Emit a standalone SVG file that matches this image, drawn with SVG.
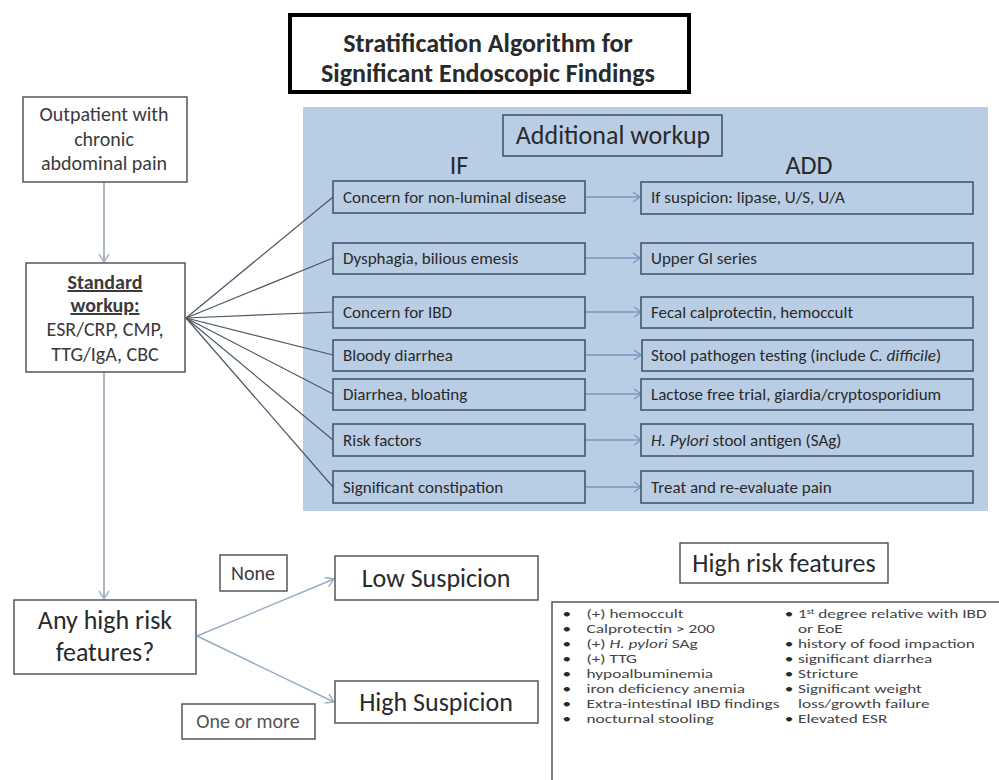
<svg xmlns="http://www.w3.org/2000/svg" width="999" height="780" viewBox="0 0 999 780">
<style>
text{font-family:Carlito,"Liberation Sans",Arial,sans-serif;fill:#2a2a2a}
.box{fill:#fff;stroke:#555;stroke-width:1.5}
.ibox{fill:#b9cde4;stroke:#3d4f66;stroke-width:1.5}
.t17{font-size:17px}
.t20{font-size:20px;text-anchor:middle;fill:#3a3a3a}
.t26{font-size:26px;text-anchor:middle}
.hr{font-size:13px;fill:#444}
.fan{stroke:#4a5868;stroke-width:1.2;fill:none}
.blue{stroke:#7b96bd;stroke-width:1.3;fill:none}
.grey{stroke:#a9b6c4;stroke-width:2;fill:none}
.lb{stroke:#98adc4;stroke-width:1.5;fill:none}
</style>
<defs>
<marker id="ah" markerUnits="userSpaceOnUse" markerWidth="12" markerHeight="12" refX="9" refY="6" orient="auto"><path d="M2,1 L9,6 L2,11" fill="none" stroke="#7b96bd" stroke-width="1.3"/></marker>
<marker id="ag" markerUnits="userSpaceOnUse" markerWidth="14" markerHeight="14" refX="11" refY="7" orient="auto"><path d="M3,2 L11,7 L3,12" fill="none" stroke="#a9b6c4" stroke-width="1.6"/></marker>
<marker id="al" markerUnits="userSpaceOnUse" markerWidth="14" markerHeight="14" refX="11" refY="7" orient="auto"><path d="M3,2 L11,7 L3,12" fill="none" stroke="#98adc4" stroke-width="1.4"/></marker>
</defs>
<rect width="999" height="780" fill="#fff"/>

<g id="title">
<rect x="290" y="15" width="399" height="77" fill="#fff" stroke="#000" stroke-width="4"/>
<text x="488" y="52" class="t26" font-weight="bold">Stratification Algorithm for</text>
<text x="488" y="82" class="t26" font-weight="bold">Significant Endoscopic Findings</text>
</g>

<g id="panel">
<rect x="303" y="107" width="685" height="404" fill="#b9cde4"/>
</g>

<g id="additional-workup">
<rect x="503" y="115" width="219" height="41" class="ibox"/>
<text x="613" y="144" class="t26">Additional workup</text>
<text x="459" y="174" class="t26">IF</text>
<text x="809" y="174" class="t26">ADD</text>
</g>

<g id="connectors">
<line x1="104" y1="182" x2="104" y2="262" class="grey" marker-end="url(#ag)"/>
<line x1="104" y1="372" x2="104" y2="599" class="grey" marker-end="url(#ag)"/>
<line x1="186" y1="318" x2="333" y2="197" class="fan"/>
<line x1="186" y1="318" x2="333" y2="258" class="fan"/>
<line x1="186" y1="318" x2="333" y2="312" class="fan"/>
<line x1="186" y1="318" x2="333" y2="355" class="fan"/>
<line x1="186" y1="318" x2="333" y2="394" class="fan"/>
<line x1="186" y1="318" x2="333" y2="440" class="fan"/>
<line x1="186" y1="318" x2="333" y2="487" class="fan"/>
<line x1="585" y1="197" x2="640" y2="197" class="blue" marker-end="url(#ah)"/>
<line x1="585" y1="258" x2="640" y2="258" class="blue" marker-end="url(#ah)"/>
<line x1="585" y1="312" x2="641" y2="312" class="blue" marker-end="url(#ah)"/>
<line x1="585" y1="355" x2="641" y2="355" class="blue" marker-end="url(#ah)"/>
<line x1="585" y1="394" x2="641" y2="394" class="blue" marker-end="url(#ah)"/>
<line x1="585" y1="440" x2="641" y2="440" class="blue" marker-end="url(#ah)"/>
<line x1="585" y1="487" x2="641" y2="487" class="blue" marker-end="url(#ah)"/>
<line x1="197" y1="636" x2="334" y2="579" class="lb" marker-end="url(#al)"/>
<line x1="197" y1="636" x2="334" y2="702" class="lb" marker-end="url(#al)"/>
</g>

<g id="outpatient">
<rect x="23" y="97" width="164" height="85" class="box"/>
<text x="104" y="121" class="t20">Outpatient with</text>
<text x="104" y="146" class="t20">chronic</text>
<text x="104" y="170" class="t20">abdominal pain</text>
</g>

<g id="standard-workup">
<rect x="26" y="263" width="159" height="109" class="box"/>
<text x="105" y="289" class="t20" font-weight="bold" text-decoration="underline">Standard</text>
<text x="105" y="312" class="t20" font-weight="bold" text-decoration="underline">workup:</text>
<text x="105" y="336" class="t20">ESR/CRP, CMP,</text>
<text x="105" y="361" class="t20">TTG/IgA, CBC</text>
</g>

<g id="if-1"><rect x="333" y="181" width="252" height="32" class="ibox"/><text x="343" y="203" class="t17">Concern for non-luminal disease</text></g>
<g id="if-2"><rect x="333" y="243" width="252" height="31" class="ibox"/><text x="343" y="264" class="t17">Dysphagia, bilious emesis</text></g>
<g id="if-3"><rect x="333" y="297" width="252" height="31" class="ibox"/><text x="343" y="318" class="t17">Concern for IBD</text></g>
<g id="if-4"><rect x="333" y="340" width="252" height="31" class="ibox"/><text x="343" y="361" class="t17">Bloody diarrhea</text></g>
<g id="if-5"><rect x="333" y="379" width="252" height="31" class="ibox"/><text x="343" y="400" class="t17">Diarrhea, bloating</text></g>
<g id="if-6"><rect x="333" y="424" width="252" height="32" class="ibox"/><text x="343" y="446" class="t17">Risk factors</text></g>
<g id="if-7"><rect x="333" y="471" width="252" height="32" class="ibox"/><text x="343" y="493" class="t17">Significant constipation</text></g>

<g id="add-1"><rect x="641" y="182" width="332" height="32" class="ibox"/><text x="651" y="203" class="t17">If suspicion: lipase, U/S, U/A</text></g>
<g id="add-2"><rect x="641" y="243" width="332" height="31" class="ibox"/><text x="651" y="264" class="t17">Upper GI series</text></g>
<g id="add-3"><rect x="641" y="297" width="332" height="31" class="ibox"/><text x="651" y="318" class="t17">Fecal calprotectin, hemoccult</text></g>
<g id="add-4"><rect x="642" y="340" width="331" height="31" class="ibox"/><text x="651" y="361" class="t17">Stool pathogen testing (include <tspan font-style="italic">C. difficile</tspan>)</text></g>
<g id="add-5"><rect x="641" y="379" width="332" height="31" class="ibox"/><text x="651" y="400" class="t17">Lactose free trial, giardia/cryptosporidium</text></g>
<g id="add-6"><rect x="641" y="424" width="332" height="32" class="ibox"/><text x="651" y="446" class="t17"><tspan font-style="italic">H. Pylori</tspan> stool antigen (SAg)</text></g>
<g id="add-7"><rect x="641" y="471" width="332" height="32" class="ibox"/><text x="651" y="493" class="t17">Treat and re-evaluate pain</text></g>

<g id="any-high-risk">
<rect x="14" y="600" width="182" height="74" class="box"/>
<text x="105" y="629" class="t26">Any high risk</text>
<text x="105" y="661" class="t26">features?</text>
</g>

<g id="none-label"><rect x="220" y="555" width="67" height="36" class="box"/><text x="253" y="580" class="t20">None</text></g>
<g id="one-or-more-label"><rect x="182" y="704" width="133" height="35" class="box"/><text x="248" y="728" class="t20" style="fill:#555">One or more</text></g>

<g id="low-suspicion"><rect x="335" y="556" width="203" height="44" class="box"/><text x="436" y="587" class="t26">Low Suspicion</text></g>
<g id="high-suspicion"><rect x="335" y="681" width="203" height="42" class="box"/><text x="436" y="711" class="t26">High Suspicion</text></g>

<g id="high-risk-features">
<rect x="552" y="602" width="460" height="200" class="box"/>
<rect x="680" y="543" width="208" height="40" class="box"/>
<text x="784" y="572" class="t26">High risk features</text>
<g class="hr" transform="matrix(1.33,0,0,1,-182.2,0)">
<text x="560" y="618">•</text><text x="578" y="618" class="hr">(+) hemoccult</text>
<text x="560" y="633">•</text><text x="578" y="633" class="hr">Calprotectin &gt; 200</text>
<text x="560" y="648">•</text><text x="578" y="648" class="hr">(+) <tspan font-style="italic">H. pylori</tspan> SAg</text>
<text x="560" y="663">•</text><text x="578" y="663" class="hr">(+) TTG</text>
<text x="560" y="678">•</text><text x="578" y="678" class="hr">hypoalbuminemia</text>
<text x="560" y="693">•</text><text x="578" y="693" class="hr">iron deficiency anemia</text>
<text x="560" y="708">•</text><text x="578" y="708" class="hr">Extra-intestinal IBD findings</text>
<text x="560" y="723">•</text><text x="578" y="723" class="hr">nocturnal stooling</text>
<text x="727" y="618">•</text><text x="737" y="618" class="hr">1<tspan font-size="8" dy="-4">st</tspan><tspan dy="4"> degree relative with IBD</tspan></text>
<text x="737" y="633" class="hr">or EoE</text>
<text x="727" y="648">•</text><text x="737" y="648" class="hr">history of food impaction</text>
<text x="727" y="663">•</text><text x="737" y="663" class="hr">significant diarrhea</text>
<text x="727" y="678">•</text><text x="737" y="678" class="hr">Stricture</text>
<text x="727" y="693">•</text><text x="737" y="693" class="hr">Significant weight</text>
<text x="737" y="708" class="hr">loss/growth failure</text>
<text x="727" y="723">•</text><text x="737" y="723" class="hr">Elevated ESR</text>
</g>
</g>
</svg>
